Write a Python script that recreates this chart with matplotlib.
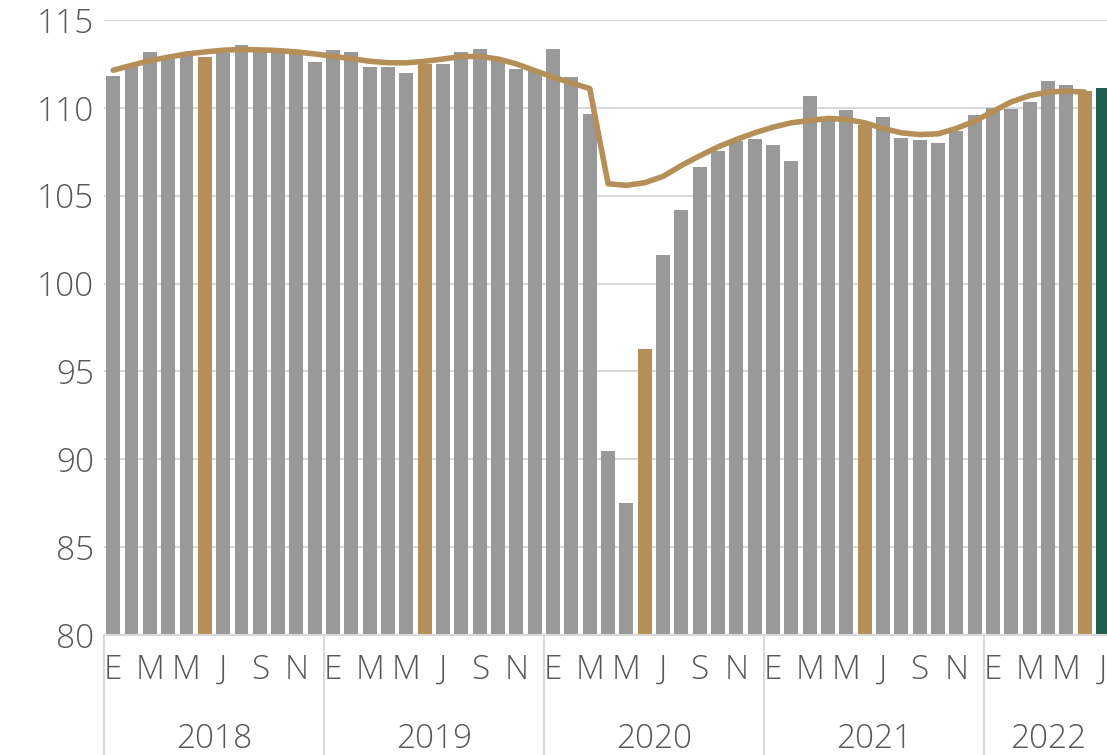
import numpy as np
import matplotlib
matplotlib.use('Agg')
import matplotlib.pyplot as plt


# monthly index, Jan 2018 - Jul 2022
YEARS = ['2018', '2019', '2020', '2021', '2022']
MONTH_LETTERS = ['E', 'F', 'M', 'A', 'M', 'J', 'J', 'A', 'S', 'O', 'N', 'D']

values_2018 = [111.8, 112.4, 113.2, 112.8, 113.0, 112.9, 113.1, 113.6, 113.3, 113.2, 113.1, 112.6]
values_2019 = [113.3, 113.2, 112.35, 112.3, 112.0, 112.5, 112.5, 113.2, 113.35, 112.8, 112.2, 112.1]
values_2020 = [113.35, 111.76, 109.66, 90.45, 87.5, 96.25, 101.65, 104.16, 106.65, 107.56, 108.13, 108.24]
values_2021 = [107.9, 106.99, 110.68, 109.3, 109.89, 109.05, 109.49, 108.31, 108.18, 108.01, 108.7, 109.6]
values_2022 = [110.0, 109.94, 110.36, 111.53, 111.31, 110.95, 111.14]

# trend line, Jan 2018 - Jun 2022
trend_2018 = [112.14, 112.42, 112.69, 112.88, 113.07, 113.18, 113.28, 113.32, 113.30, 113.26, 113.18, 113.07]
trend_2019 = [112.93, 112.80, 112.65, 112.57, 112.56, 112.65, 112.78, 112.92, 112.93, 112.78, 112.50, 112.12]
trend_2020 = [111.75, 111.42, 111.10, 105.68, 105.59, 105.74, 106.10, 106.72, 107.27, 107.78, 108.20, 108.58]
trend_2021 = [108.90, 109.15, 109.28, 109.40, 109.34, 109.15, 108.83, 108.58, 108.48, 108.52, 108.83, 109.24]
trend_2022 = [109.80, 110.34, 110.70, 110.90, 110.95, 110.90]

GRAY = '#999999'
GOLD = '#B58F58'
GREEN = '#1F5F4F'
TEXT = '#595959'
LINE = '#D9D9D9'
FONT_SIZE = 24


def bar_colors(n):
    colors = []
    for i in range(n):
        if i == n - 1:
            colors.append(GREEN)
        elif i % 12 == 5:
            colors.append(GOLD)
        else:
            colors.append(GRAY)
    return colors


def main():
    plt.rcParams['font.family'] = ['Open Sans', 'DejaVu Sans']
    values = values_2018 + values_2019 + values_2020 + values_2021 + values_2022
    trend = trend_2018 + trend_2019 + trend_2020 + trend_2021 + trend_2022
    x = np.arange(len(values))

    fig = plt.figure(figsize=(11.07, 7.55), dpi=100)
    ax = fig.add_axes([104 / 1107, 120 / 755, 1003 / 1107, 615 / 755])

    ax.bar(x, np.array(values) - 80, bottom=80, width=0.76,
           color=bar_colors(len(values)), zorder=2)
    ax.plot(np.arange(len(trend)), trend, color=GOLD, lw=4,
            solid_capstyle='round', solid_joinstyle='round', zorder=3)

    ax.set_ylim(80, 115)
    ax.set_xlim(-0.5, (1107 - 104) / 18.33 - 0.5)
    ax.set_yticks(np.arange(80, 116, 5))
    ax.yaxis.grid(True, color=LINE, lw=1.5, zorder=0)
    ax.set_axisbelow(True)
    for side in ['top', 'right', 'left']:
        ax.spines[side].set_visible(False)
    ax.spines['bottom'].set_color(LINE)
    ax.spines['bottom'].set_linewidth(1.5)

    ax.tick_params(axis='y', length=0, pad=7, labelsize=FONT_SIZE, labelcolor=TEXT)
    for lbl in ax.get_yticklabels():
        lbl.set_fontweight('light')

    # month letters every other month
    ticks = [i for i in x if i % 2 == 0]
    ax.set_xticks(ticks)
    ax.set_xticklabels([MONTH_LETTERS[i % 12] for i in ticks], fontsize=FONT_SIZE,
                       color=TEXT, fontweight='light')
    ax.tick_params(axis='x', length=0, pad=13)

    trans = ax.get_xaxis_transform()
    for k, year in enumerate(YEARS):
        start = k * 12 - 0.5
        end = min(start + 12, len(values) - 0.5)
        ax.text((start + end) / 2, -0.17, year, transform=trans, ha='center',
                va='center', fontsize=FONT_SIZE, color=TEXT, fontweight='light')
        ax.plot([start, start], [0, -0.25], transform=trans, color=LINE,
                lw=1.5, clip_on=False)

    fig.savefig('out.png', dpi=100)
    plt.close(fig)


if __name__ == '__main__':
    main()
